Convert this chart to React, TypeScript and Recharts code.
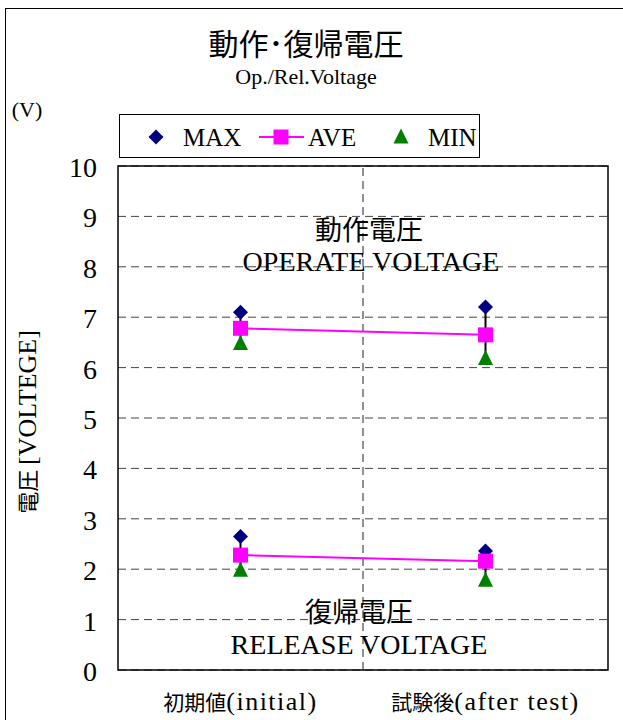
import React from "react";
import {
  ComposedChart,
  Line,
  XAxis,
  YAxis,
  CartesianGrid,
  ReferenceLine,
  ReferenceArea,
  ErrorBar,
} from "recharts";

const CATEGORIES_JA = ["初期値", "試験後"];
const CATEGORIES_EN = ["(initial)", "(after test)"];
const CATEGORY_POS = [0.5, 1.5];

const OP_MAX = [7.1, 7.2];
const OP_AVE = [6.78, 6.65];
const OP_MIN = [6.5, 6.2];

const REL_MAX = [2.65, 2.36];
const REL_AVE = [2.28, 2.16];
const REL_MIN = [2.0, 1.8];

const Y_TICKS = [0, 1, 2, 3, 4, 5, 6, 7, 8, 9, 10];

const NAVY = "#000080";
const MAGENTA = "#ff00ff";
const GREEN = "#008000";

const SERIF = '"Liberation Serif", "DejaVu Serif", "Noto Sans CJK JP", serif';
const CJK = '"Noto Sans CJK JP", sans-serif';

const data = CATEGORY_POS.map((x, i) => ({
  x,
  opMax: OP_MAX[i],
  opAve: OP_AVE[i],
  opMin: OP_MIN[i],
  opErr: [OP_AVE[i] - OP_MIN[i], OP_MAX[i] - OP_AVE[i]],
  relMax: REL_MAX[i],
  relAve: REL_AVE[i],
  relMin: REL_MIN[i],
  relErr: [REL_AVE[i] - REL_MIN[i], REL_MAX[i] - REL_AVE[i]],
}));

const Diamond = (props: any) => {
  const { cx, cy } = props;
  if (cx == null || cy == null) return null;
  const r = 7.5;
  return (
    <polygon
      points={`${cx},${cy - r} ${cx + r},${cy} ${cx},${cy + r} ${cx - r},${cy}`}
      fill={NAVY}
    />
  );
};

const Square = (props: any) => {
  const { cx, cy } = props;
  if (cx == null || cy == null) return null;
  const r = 7.5;
  return <rect x={cx - r} y={cy - r} width={r * 2} height={r * 2} fill={MAGENTA} />;
};

const Triangle = (props: any) => {
  const { cx, cy } = props;
  if (cx == null || cy == null) return null;
  const r = 7.5;
  return (
    <polygon
      points={`${cx},${cy - r} ${cx + r},${cy + r} ${cx - r},${cy + r}`}
      fill={GREEN}
    />
  );
};

const CategoryTick = (props: any) => {
  const { x, y, payload } = props;
  const i = CATEGORY_POS.indexOf(payload.value);
  if (i < 0) return null;
  return (
    <text x={x} y={y + 38} textAnchor="middle" fill="#000">
      <tspan fontFamily={CJK} fontSize={21}>{CATEGORIES_JA[i]}</tspan>
      <tspan fontFamily={SERIF} fontSize={26} letterSpacing={1.5}>{CATEGORIES_EN[i]}</tspan>
    </text>
  );
};

const abs = (x: number, y: number, extra: React.CSSProperties = {}): React.CSSProperties => ({
  position: "absolute",
  left: x,
  top: y,
  transform: "translate(-50%, -50%)",
  whiteSpace: "nowrap",
  fontFamily: SERIF,
  color: "#000",
  lineHeight: 1,
  ...extra,
});

const Legend = () => (
  <div
    style={{
      position: "absolute",
      left: 119,
      top: 114,
      width: 359,
      height: 42,
      border: "1px solid #000",
      background: "#fff",
    }}
  >
    <svg width={359} height={42} style={{ position: "absolute", left: 0, top: 0 }}>
      <Diamond cx={36} cy={22} />
      <text x={63} y={31} fontSize={25} fontFamily={SERIF}>MAX</text>
      <line x1={139} y1={22} x2={184} y2={22} stroke={MAGENTA} strokeWidth={2} />
      <Square cx={161} cy={22} />
      <text x={188} y={31} fontSize={25} fontFamily={SERIF}>AVE</text>
      <Triangle cx={281} cy={21} />
      <text x={308} y={31} fontSize={25} fontFamily={SERIF}>MIN</text>
    </svg>
  </div>
);

export default function App() {
  return (
    <div
      style={{
        position: "absolute",
        left: 0,
        top: 0,
        width: 623,
        height: 720,
        overflow: "hidden",
        background: "#fff",
      }}
    >
      <div
        style={{
          position: "absolute",
          left: 5,
          top: 8,
          width: 640,
          height: 740,
          border: "1px solid #000",
        }}
      />
      <ComposedChart
        width={623}
        height={720}
        data={data}
        margin={{ top: 166, right: 15, bottom: 0, left: 0 }}
        style={{ position: "absolute", left: 0, top: 0 }}
      >
        <CartesianGrid vertical={false} stroke="#444" strokeDasharray="8 5" />
        <XAxis
          type="number"
          dataKey="x"
          domain={[0, 2]}
          ticks={CATEGORY_POS}
          height={50}
          axisLine={false}
          tickLine={false}
          tickSize={0}
          tick={<CategoryTick />}
          allowDataOverflow
        />
        <YAxis
          type="number"
          domain={[0, 10]}
          ticks={Y_TICKS}
          width={118}
          axisLine={false}
          tickLine={false}
          tickSize={0}
          tickMargin={21}
          interval={0}
          tick={{ fontSize: 28, fill: "#000", fontFamily: SERIF, dy: 1 }}
          allowDataOverflow
        />
        <ReferenceLine x={1} stroke="#222" strokeDasharray="8 5" />
        <ReferenceArea
          x1={0}
          x2={2}
          y1={0}
          y2={10}
          fill="none"
          stroke="#000"
          strokeWidth={1.5}
          ifOverflow="visible"
        />

        {/* high-low lines */}
        <Line dataKey="opAve" stroke="none" dot={false} activeDot={false} legendType="none" isAnimationActive={false}>
          <ErrorBar dataKey="opErr" direction="y" width={0} stroke="#000" strokeWidth={2} />
        </Line>
        <Line dataKey="relAve" stroke="none" dot={false} activeDot={false} legendType="none" isAnimationActive={false}>
          <ErrorBar dataKey="relErr" direction="y" width={0} stroke="#000" strokeWidth={2} />
        </Line>

        <Line dataKey="opMax" stroke="none" dot={<Diamond />} activeDot={false} isAnimationActive={false} />
        <Line dataKey="relMax" stroke="none" dot={<Diamond />} activeDot={false} isAnimationActive={false} />
        <Line dataKey="opMin" stroke="none" dot={<Triangle />} activeDot={false} isAnimationActive={false} />
        <Line dataKey="relMin" stroke="none" dot={<Triangle />} activeDot={false} isAnimationActive={false} />
        <Line dataKey="opAve" stroke={MAGENTA} strokeWidth={2} dot={<Square />} activeDot={false} isAnimationActive={false} />
        <Line dataKey="relAve" stroke={MAGENTA} strokeWidth={2} dot={<Square />} activeDot={false} isAnimationActive={false} />
      </ComposedChart>

      <div style={abs(306, 42, { fontSize: 30, fontFamily: CJK })}>動作･復帰電圧</div>
      <div style={abs(306, 77, { fontSize: 22 })}>Op./Rel.Voltage</div>
      <div style={abs(27, 110, { fontSize: 22 })}>(V)</div>
      <div style={abs(28, 422, { transform: "translate(-50%, -50%) rotate(-90deg)" })}>
        <span style={{ fontFamily: CJK, fontSize: 22 }}>電圧 </span>
        <span style={{ fontSize: 26 }}>[VOLTEGE]</span>
      </div>

      <div style={abs(369, 228, { fontSize: 27, fontFamily: CJK })}>動作電圧</div>
      <div style={abs(371, 262, { fontSize: 28 })}>OPERATE VOLTAGE</div>
      <div style={abs(359, 610, { fontSize: 27, fontFamily: CJK })}>復帰電圧</div>
      <div style={abs(359, 645, { fontSize: 28 })}>RELEASE VOLTAGE</div>

      <Legend />
    </div>
  );
}
